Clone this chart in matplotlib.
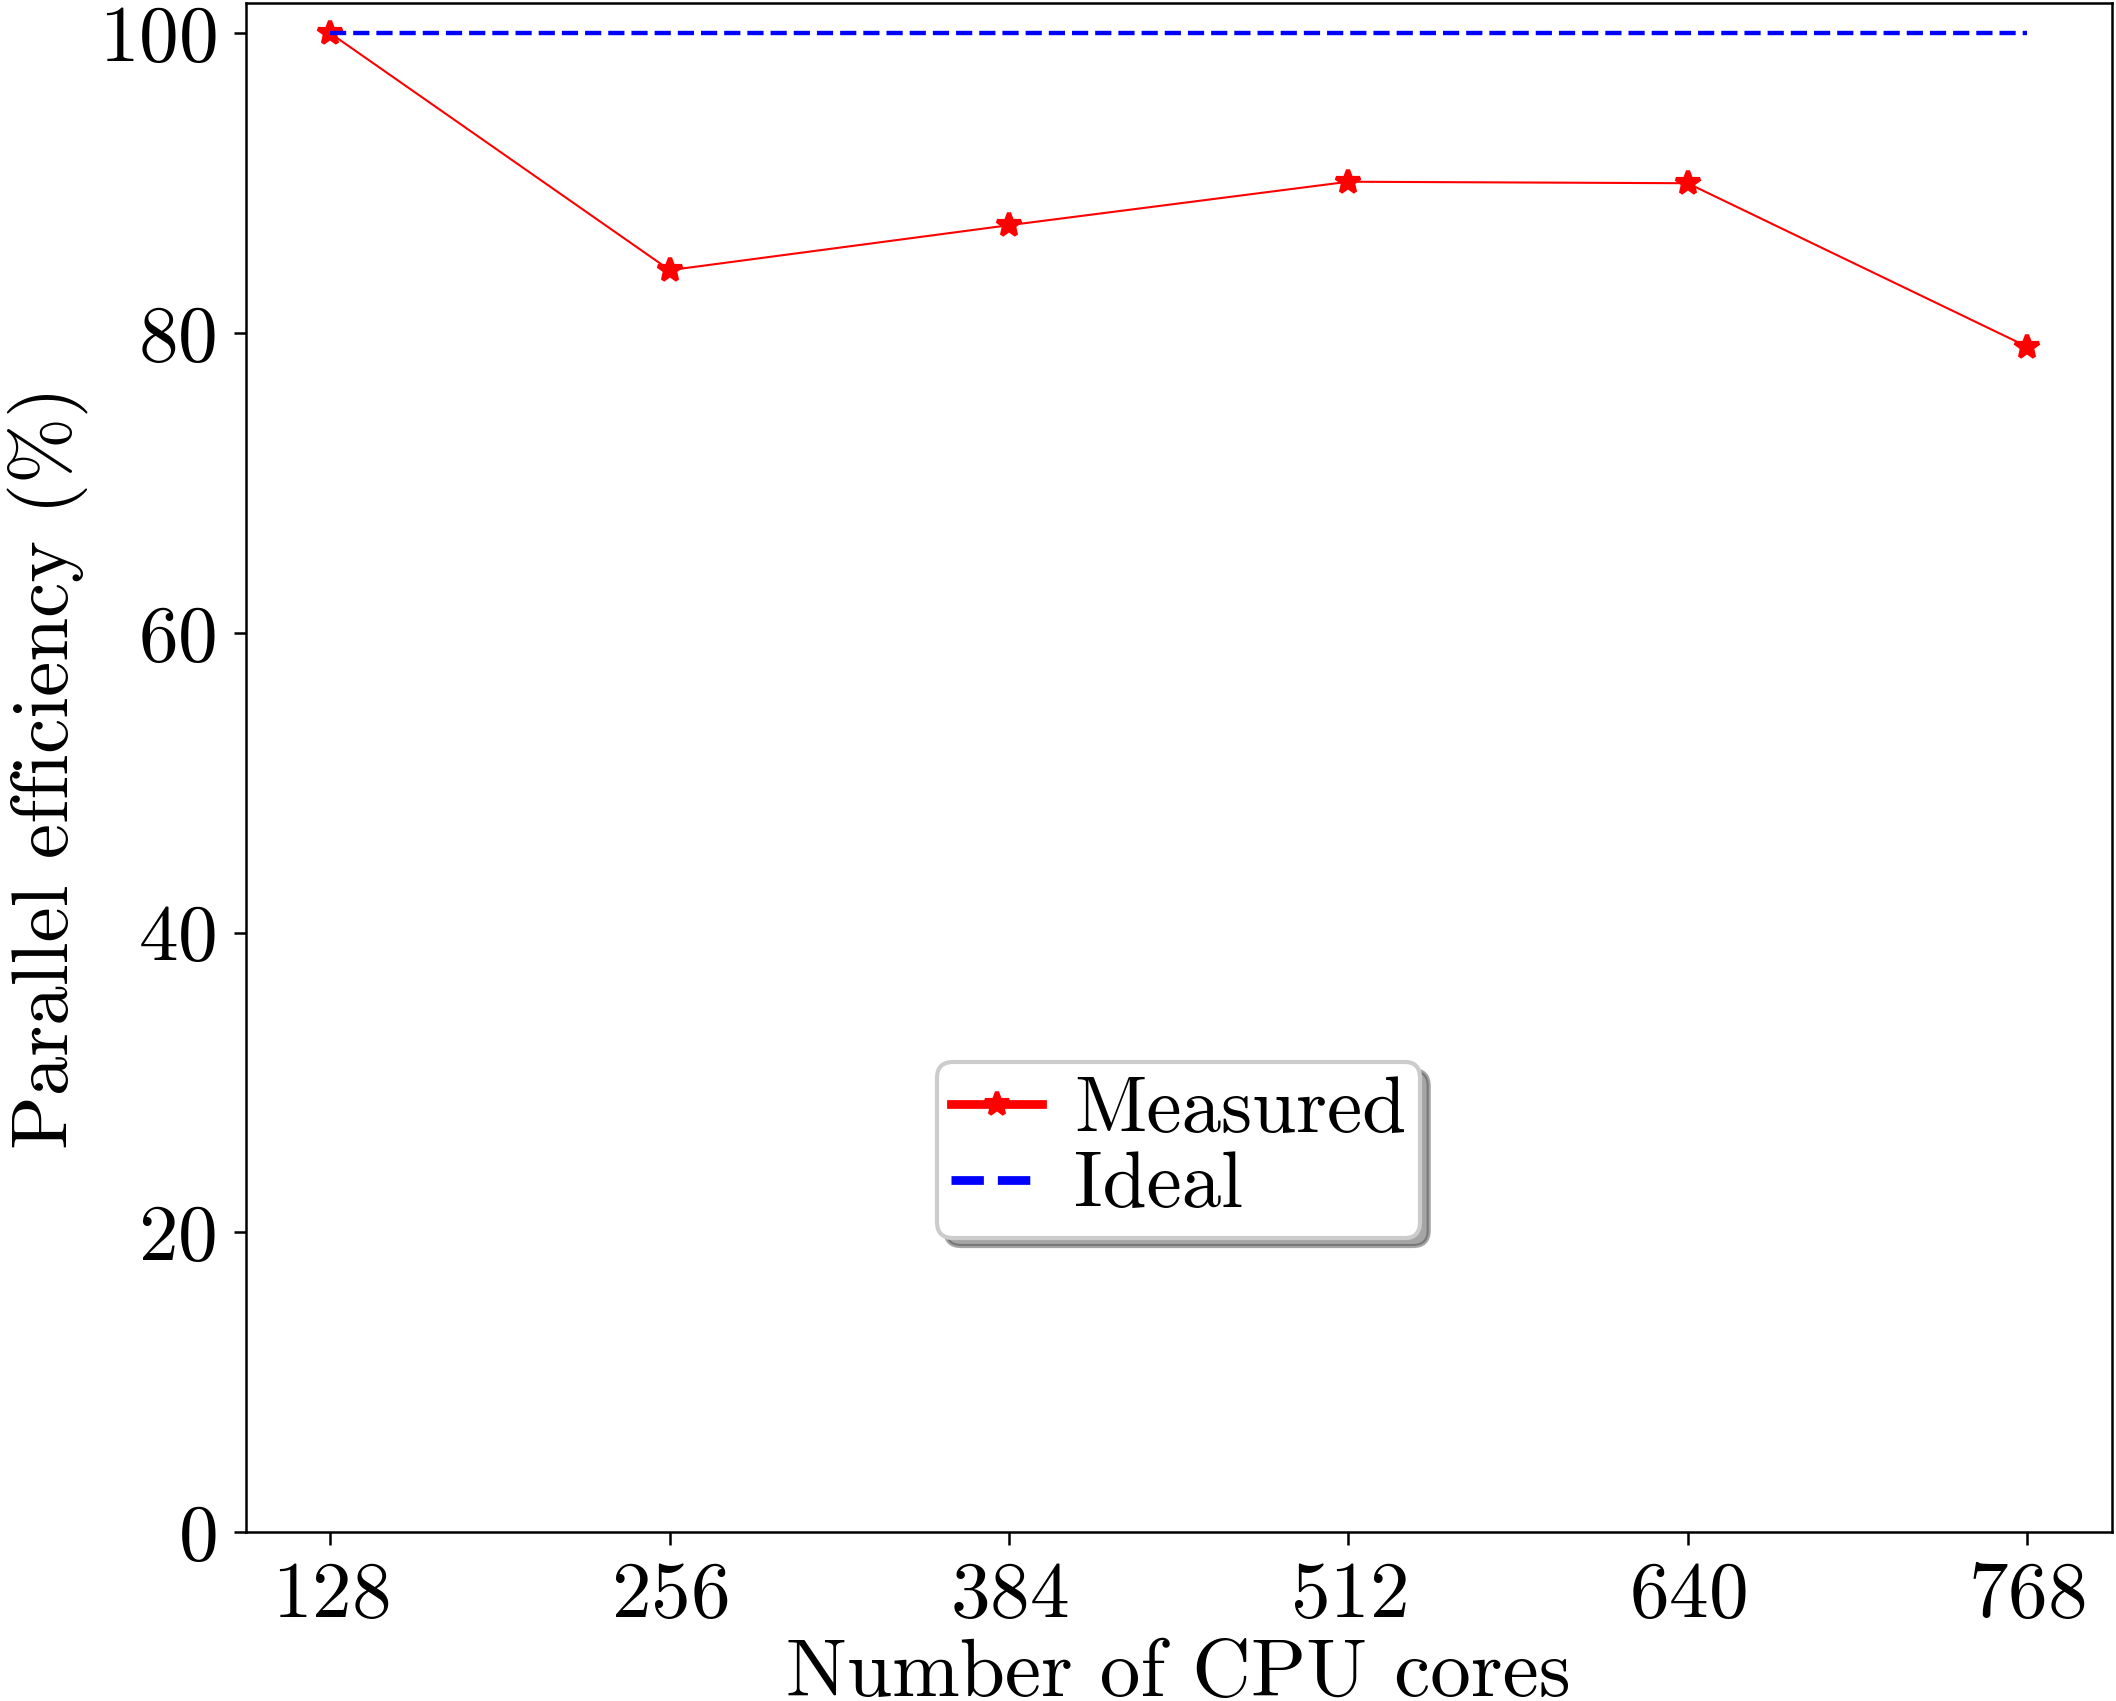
import numpy as np
import matplotlib
matplotlib.use("Agg")
import matplotlib.pyplot as plt

# data
cores = [128, 256, 384, 512, 640, 768]
measured = [100.0, 84.2, 87.2, 90.1, 90.0, 79.1]
ideal = [100, 100, 100, 100, 100, 100]

plt.rcParams['font.family'] = 'serif'
plt.rcParams['font.serif'] = ['cmr10']
plt.rcParams['mathtext.fontset'] = 'cm'
plt.rcParams['axes.formatter.use_mathtext'] = True

fig = plt.figure(figsize=(2116 / 300, 1701 / 300), dpi=300)
ax = fig.add_axes([0.1161, 0.0994, 0.998 - 0.1161, 0.998 - 0.0994])

ax.plot(cores, measured, color='red', lw=0.5, marker='*', markersize=6, label='Measured')
ax.plot(cores, ideal, color='blue', lw=1.05, ls='--', label='Ideal')

ax.set_xlim(96, 800)
ax.set_ylim(0, 102)
ax.set_xticks(cores)
ax.set_yticks([0, 20, 40, 60, 80, 100])
ax.tick_params(labelsize=19, width=0.6, length=3, pad=4)
for s in ax.spines.values():
    s.set_linewidth(0.6)

# x label is partly cut by the figure edge, as in the original
ax.set_xlabel('Number of CPU cores', fontsize=19.5, labelpad=1.5)
ax.set_ylabel('Parallel efficiency (%)', fontsize=19, labelpad=2.5)

leg = ax.legend(loc='center', bbox_to_anchor=(0.5, 0.25), fontsize=19,
                shadow=True, fancybox=True, handlelength=1.15,
                handletextpad=0.4, borderpad=0.18, labelspacing=0.05)
for line in leg.get_lines():
    line.set_linewidth(2.1)

fig.savefig('out.png', dpi=300)
